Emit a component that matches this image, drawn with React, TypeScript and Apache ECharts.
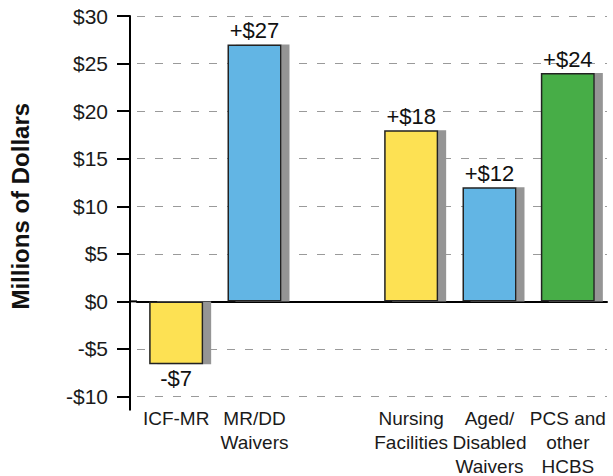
import React, { useEffect, useRef } from "react";
import * as echarts from "echarts";

const categories = [
  "ICF-MR",
  "MR/DD\nWaivers",
  "",
  "Nursing\nFacilities",
  "Aged/\nDisabled\nWaivers",
  "PCS and\nother\nHCBS",
];
const values: (number | null)[] = [-6.6, 27, null, 18, 12, 24];
const barColors = ["#FDE153", "#62B5E4", "#ffffff", "#FDE153", "#62B5E4", "#46AD46"];
const yTicks = { min: -10, max: 30, interval: 5 };

const FONT = "'Liberation Sans', Arial, Helvetica, sans-serif";

export default function App() {
  const ref = useRef<HTMLDivElement>(null);
  useEffect(() => {
    document.body.style.margin = "0";
    const chart = echarts.init(ref.current!, null, { renderer: "svg" });
    const data = values.map((v, i) => ({
      value: v,
      itemStyle: { color: barColors[i] },
      label: { position: v !== null && v < 0 ? "bottom" : "top" },
    }));
    chart.setOption({
      animation: false,
      grid: {
        left: 137,
        right: 6,
        top: 16,
        bottom: 79.5,
        containLabel: false,
        outerBoundsMode: "none",
      },
      xAxis: [
        {
          type: "category",
          data: categories,
          position: "bottom",
          axisLine: { show: false, onZero: false },
          axisTick: { show: false },
          axisLabel: {
            interval: 0,
            margin: 10,
            fontSize: 19,
            lineHeight: 24,
            color: "#1a1a1a",
            fontFamily: FONT,
          },
        },
        {
          type: "category",
          data: categories,
          position: "top",
          axisLine: { show: true, onZero: true, lineStyle: { color: "#000", width: 2 } },
          axisTick: { show: false },
          axisLabel: { show: false },
        },
      ],
      yAxis: {
        type: "value",
        min: yTicks.min,
        max: yTicks.max,
        interval: yTicks.interval,
        offset: 7,
        name: "Millions of Dollars",
        nameLocation: "middle",
        nameGap: 98,
        nameTextStyle: { fontSize: 24, fontWeight: "bold", color: "#111", fontFamily: FONT },
        axisLine: { show: true, lineStyle: { color: "#000", width: 2 } },
        axisTick: { show: true, length: 13, lineStyle: { color: "#000", width: 2 } },
        axisLabel: {
          margin: 22,
          fontSize: 21,
          color: "#1a1a1a",
          fontFamily: FONT,
          formatter: (v: number) => (v < 0 ? `-$${-v}` : `$${v}`),
        },
        splitLine: {
          show: true,
          lineStyle: { color: "#9a9a9a", width: 1, type: [8, 10] },
        },
      },
      series: [
        {
          type: "bar",
          xAxisIndex: 0,
          data,
          barWidth: 54,
          itemStyle: {
            borderColor: "#222",
            borderWidth: 1.5,
            shadowColor: "#959595",
            shadowOffsetX: 8,
            shadowOffsetY: 0,
            shadowBlur: 0,
          },
          label: {
            show: true,
            distance: 3,
            fontSize: 22,
            color: "#111",
            fontFamily: FONT,
            formatter: (p: any) => {
              const v = p.value as number;
              if (v === null || v === undefined) return "";
              return v < 0 ? `-$${Math.round(-v)}` : `+$${Math.round(v)}`;
            },
          },
        },
      ],
    });
    const yZero = chart.convertToPixel({ yAxisIndex: 0 }, 0) as number;
    const yBottom = chart.convertToPixel({ yAxisIndex: 0 }, yTicks.min) as number;
    const xFirst = chart.convertToPixel({ xAxisIndex: 0 }, 0) as number;
    const slot = (chart.convertToPixel({ xAxisIndex: 0 }, 1) as number) - xFirst;
    const gridLeft = xFirst - slot / 2;
    const axisX = gridLeft - 7;
    chart.setOption({
      graphic: [
        {
          type: "line",
          shape: { x1: axisX, y1: yZero, x2: gridLeft, y2: yZero },
          style: { stroke: "#000", lineWidth: 2 },
        },
        {
          type: "line",
          shape: { x1: axisX, y1: yBottom, x2: axisX, y2: yBottom + 14 },
          style: { stroke: "#000", lineWidth: 2 },
        },
      ],
    });
    return () => chart.dispose();
  }, []);
  return <div ref={ref} style={{ width: 613, height: 476 }} />;
}
